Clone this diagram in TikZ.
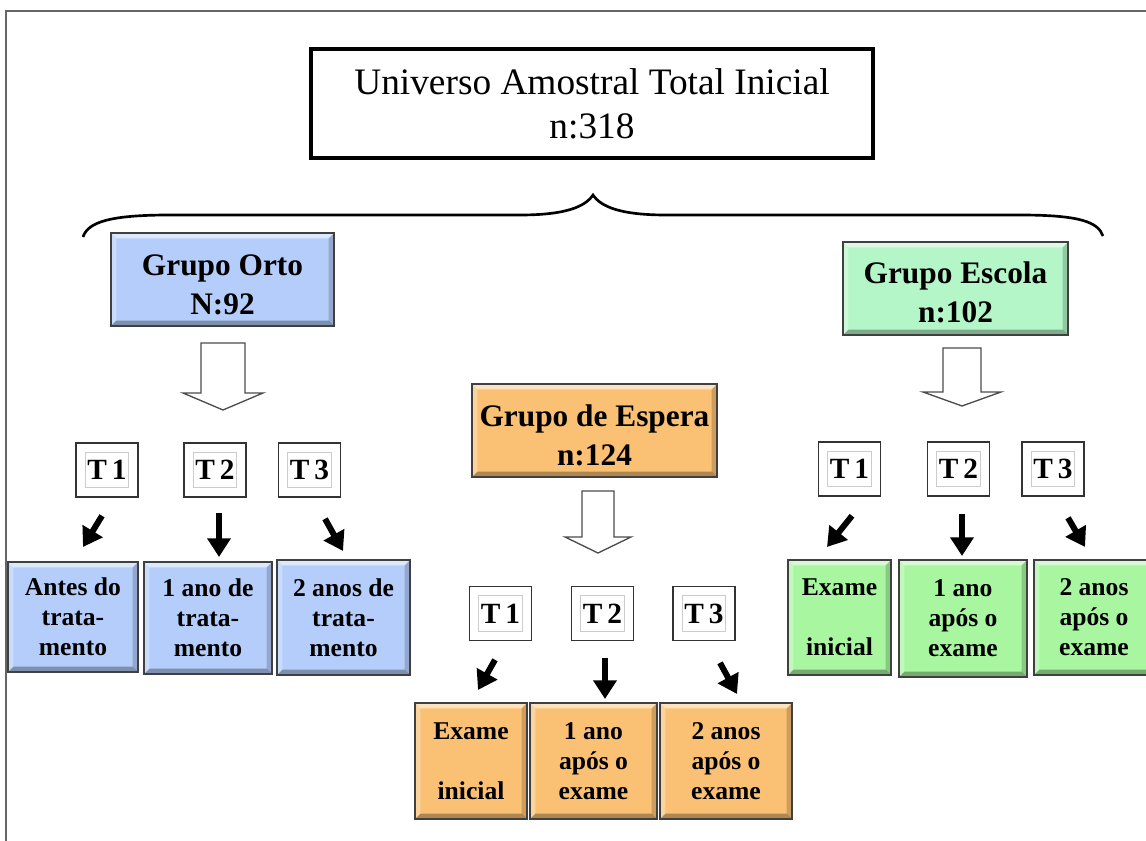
\documentclass[tikz,border=0pt]{standalone}
\usepackage{fontspec}
\setmainfont{Liberation Serif}
\usetikzlibrary{arrows.meta}
\tikzset{every picture/.style={line width=0.75pt}}
\definecolor{ortoblue}{RGB}{180,205,250}
\definecolor{esperaorange}{RGB}{250,192,115}
\definecolor{escolagreen}{RGB}{180,246,200}
\definecolor{examegreen}{RGB}{168,246,160}
\definecolor{boxedge}{RGB}{64,64,64}
\tikzset{
  bevel/.style={path picture={
    \pgftransformreset
    \coordinate (bnw) at (path picture bounding box.north west);
    \coordinate (bne) at (path picture bounding box.north east);
    \coordinate (bsw) at (path picture bounding box.south west);
    \coordinate (bse) at (path picture bounding box.south east);
    \fill[white,opacity=.55] (bnw) -- (bne) -- ([xshift=-4pt,yshift=-4pt]bne) -- ([xshift=4pt,yshift=-4pt]bnw) -- cycle;
    \fill[white,opacity=.3] (bnw) -- (bsw) -- ([xshift=4pt,yshift=4pt]bsw) -- ([xshift=4pt,yshift=-4pt]bnw) -- cycle;
    \fill[black,opacity=.3] (bsw) -- (bse) -- ([xshift=-4pt,yshift=4pt]bse) -- ([xshift=4pt,yshift=4pt]bsw) -- cycle;
    \fill[black,opacity=.18] (bne) -- (bse) -- ([xshift=-4pt,yshift=4pt]bse) -- ([xshift=-4pt,yshift=-4pt]bne) -- cycle;
  }},
  grupo/.style={draw=boxedge, line width=1.5pt, bevel, inner sep=0pt, align=center,
    minimum height=93*0.75pt, font=\fontsize{23.5}{29.5}\selectfont\bfseries},
  etapa/.style={draw=boxedge, line width=1.5pt, bevel, inner sep=0pt, align=center,
    font=\fontsize{19.2}{22.5}\selectfont\bfseries},
  tbox/.style={draw=black!80, line width=1.2pt, fill=white, inner sep=0pt,
    minimum width=62*0.75pt, minimum height=54*0.75pt, font=\fontsize{22}{24}\selectfont\bfseries,
    path picture={\pgftransformreset
      \draw[gray!40, line width=.8pt] ([xshift=7pt,yshift=-7pt]path picture bounding box.north west) rectangle ([xshift=-7pt,yshift=7pt]path picture bounding box.south east);}},
  hollow/.style={draw=black!70, fill=white, line width=1pt, line join=miter},
  fatarrow/.style={line width=4.5pt, -{Triangle[length=14pt,width=17pt]}},
}
\begin{document}
\begin{tikzpicture}[x=0.75pt,y=0.75pt,yscale=-1,xscale=1]
\useasboundingbox (0,0) rectangle (1146,841);

%Frame
\draw [line width=1pt, black!60] (6,841) -- (6,11) -- (1146,11) ;

% Text Node
\node [draw, line width=3pt, minimum width=562*0.75pt, minimum height=109*0.75pt, align=center, font=\fontsize{28}{33}\selectfont] (uni) at (592,103.5) {Universo Amostral Total Inicial\\n:318};

%Curve Lines: brace
\draw [line width=2pt] (83,237) .. controls (88,222) and (110,215) .. (170,215) -- (520,215) .. controls (565,215) and (585,207) .. (593,195) .. controls (601,207) and (621,215) .. (666,215) -- (1020,215) .. controls (1080,215) and (1098,222) .. (1103,236) ;

% Grupos
\node [grupo, fill=ortoblue, minimum width=223*0.75pt] (orto) at (222.5,279.5) {\rule{0pt}{24pt}Grupo Orto\\N:92};
\node [grupo, fill=esperaorange, minimum width=245*0.75pt] (espera) at (594.5,430.5) {\rule{0pt}{24pt}Grupo de Espera\\n:124};
\node [grupo, fill=escolagreen, minimum width=225*0.75pt] (escola) at (955.5,288.5) {\rule{0pt}{22pt}Grupo Escola\\n:102};

%Shape: hollow arrows
\draw [hollow] (201,343) -- (245,343) -- (245,393) -- (263,393) -- (223,410) -- (183,393) -- (201,393) -- cycle ;
\draw [hollow] (582,491) -- (614,491) -- (614,537) -- (631,537) -- (598,553) -- (565,537) -- (582,537) -- cycle ;
\draw [hollow] (943,348) -- (981,348) -- (981,392) -- (1001,392) -- (962,406) -- (923,392) -- (943,392) -- cycle ;

% T boxes
\node [tbox] (ot1) at (107,470) {T\,1};
\node [tbox] (ot2) at (215,470) {T\,2};
\node [tbox] (ot3) at (309.5,470) {T\,3};
\node [tbox] (et1) at (500.5,613.5) {T\,1};
\node [tbox] (et2) at (602.5,613.5) {T\,2};
\node [tbox] (et3) at (704,613.5) {T\,3};
\node [tbox] (st1) at (849.5,469) {T\,1};
\node [tbox] (st2) at (958.5,469) {T\,2};
\node [tbox] (st3) at (1053,469) {T\,3};

% Etapas
\node [etapa, fill=ortoblue, minimum width=130*0.75pt, minimum height=110*0.75pt] (ob1) at (73,617) {Antes do\\trata-\\mento};
\node [etapa, fill=ortoblue, minimum width=128*0.75pt, minimum height=112*0.75pt] (ob2) at (208,618) {1 ano de\\trata-\\mento};
\node [etapa, fill=ortoblue, minimum width=133*0.75pt, minimum height=115*0.75pt] (ob3) at (343.5,617.5) {2 anos de\\trata-\\mento};
\node [etapa, fill=esperaorange, minimum width=112*0.75pt, minimum height=116*0.75pt] (eb1) at (471,761) {Exame\\[22.5pt]inicial};
\node [etapa, fill=esperaorange, minimum width=127*0.75pt, minimum height=116*0.75pt] (eb2) at (593.5,761) {1 ano\\após o\\exame};
\node [etapa, fill=esperaorange, minimum width=132*0.75pt, minimum height=116*0.75pt] (eb3) at (726,761) {2 anos\\após o\\exame};
\node [etapa, fill=examegreen, minimum width=103*0.75pt, minimum height=115*0.75pt] (sb1) at (839.5,617.5) {Exame\\[22.5pt]inicial};
\node [etapa, fill=examegreen, minimum width=128*0.75pt, minimum height=117*0.75pt] (sb2) at (963,618.5) {1 ano\\após o\\exame};
\node [etapa, fill=examegreen, minimum width=120*0.75pt, minimum height=115*0.75pt] (sb3) at (1094,617.5) {2 anos\\após o\\exame};

%Straight Lines: black arrows
\draw [fatarrow] ([shift={(-5,18)}]ot1.south) -- ([shift={(10,-14)}]ob1.north) ;
\draw [fatarrow] ([shift={(4,15)}]ot2.south) -- ([shift={(11,-4)}]ob2.north) ;
\draw [fatarrow] ([shift={(15.5,21)}]ot3.south) -- ([shift={(-0.5,-8)}]ob3.north) ;
\draw [fatarrow] ([shift={(-5.5,18.5)}]et1.south) -- ([shift={(7,-12)}]eb1.north) ;
\draw [fatarrow] ([shift={(2.5,16.5)}]et2.south) -- ([shift={(11.5,-3)}]eb2.north) ;
\draw [fatarrow] ([shift={(16,21.5)}]et3.south) -- ([shift={(11,-8)}]eb3.north) ;
\draw [fatarrow] ([shift={(2.5,19)}]st1.south) -- ([shift={(-12.5,-12)}]sb1.north) ;
\draw [fatarrow] ([shift={(3.5,17)}]st2.south) -- ([shift={(-1,-3)}]sb2.north) ;
\draw [fatarrow] ([shift={(15,21)}]st3.south) -- ([shift={(-9,-12)}]sb3.north) ;

\end{tikzpicture}
\end{document}
